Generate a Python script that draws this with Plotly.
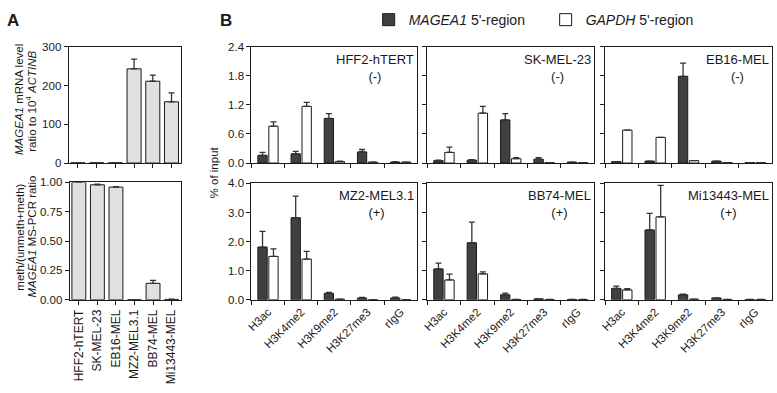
import plotly.graph_objects as go

W, H = 777, 393

# ---------------- Panel A data ----------------
cell_lines = ["HFF2-hTERT", "SK-MEL-23", "EB16-MEL", "MZ2-MEL3.1", "BB74-MEL", "Mi13443-MEL"]
mrna_level = [0.5, 0.5, 0.5, 243, 211, 158]
mrna_err = [0, 0, 0, 25, 16, 23]
msp_ratio = [1.00, 0.98, 0.96, 0.0, 0.14, 0.003]
msp_err = [0.004, 0.005, 0.005, 0.0, 0.025, 0.002]

# ---------------- Panel B data (% of input) ----------------
marks = ["H3ac", "H3K4me2", "H3K9me2", "H3K27me3", "rIgG"]

hff2_magea1 = [0.16, 0.19, 0.92, 0.23, 0.02]
hff2_magea1_err = [0.06, 0.05, 0.10, 0.05, 0.01]
hff2_gapdh = [0.76, 1.17, 0.03, 0.02, 0.02]
hff2_gapdh_err = [0.09, 0.08, 0.01, 0.0, 0.0]

sk_magea1 = [0.05, 0.06, 0.89, 0.08, 0.02]
sk_magea1_err = [0.01, 0.01, 0.13, 0.03, 0.0]
sk_gapdh = [0.22, 1.03, 0.09, 0.01, 0.01]
sk_gapdh_err = [0.11, 0.14, 0.02, 0.0, 0.0]

eb16_magea1 = [0.03, 0.04, 1.79, 0.04, 0.01]
eb16_magea1_err = [0.0, 0.0, 0.27, 0.0, 0.0]
eb16_gapdh = [0.68, 0.53, 0.05, 0.01, 0.01]
eb16_gapdh_err = [0.0, 0.0, 0.0, 0.0, 0.0]

mz2_magea1 = [1.81, 2.82, 0.22, 0.06, 0.06]
mz2_magea1_err = [0.54, 0.74, 0.03, 0.02, 0.03]
mz2_gapdh = [1.49, 1.40, 0.02, 0.0, 0.0]
mz2_gapdh_err = [0.26, 0.26, 0.0, 0.0, 0.0]

bb74_magea1 = [1.06, 1.96, 0.17, 0.03, 0.01]
bb74_magea1_err = [0.20, 0.71, 0.06, 0.0, 0.0]
bb74_gapdh = [0.68, 0.89, 0.01, 0.01, 0.01]
bb74_gapdh_err = [0.20, 0.07, 0.0, 0.0, 0.0]

mi_magea1 = [0.39, 2.40, 0.17, 0.06, 0.01]
mi_magea1_err = [0.08, 0.57, 0.02, 0.0, 0.0]
mi_gapdh = [0.34, 2.85, 0.02, 0.01, 0.01]
mi_gapdh_err = [0.04, 1.08, 0.0, 0.0, 0.0]

chip_panels = [
    ("HFF2-hTERT", "(-)", hff2_magea1, hff2_magea1_err, hff2_gapdh, hff2_gapdh_err),
    ("SK-MEL-23", "(-)", sk_magea1, sk_magea1_err, sk_gapdh, sk_gapdh_err),
    ("EB16-MEL", "(-)", eb16_magea1, eb16_magea1_err, eb16_gapdh, eb16_gapdh_err),
    ("MZ2-MEL3.1", "(+)", mz2_magea1, mz2_magea1_err, mz2_gapdh, mz2_gapdh_err),
    ("BB74-MEL", "(+)", bb74_magea1, bb74_magea1_err, bb74_gapdh, bb74_gapdh_err),
    ("Mi13443-MEL", "(+)", mi_magea1, mi_magea1_err, mi_gapdh, mi_gapdh_err),
]

INK = "#1a1a1a"
DARK = "#404040"
LIGHT = "#e0e0e0"
FONT = "Arial, Liberation Sans, sans-serif"


def xd(a, b):
    return [a / W, b / W]


def yd(top, bottom):
    return [1 - bottom / H, 1 - top / H]


base_axis = dict(showline=True, linecolor=INK, linewidth=1, mirror=True,
                 ticks="outside", ticklen=4, tickcolor=INK, tickwidth=1,
                 showgrid=False, zeroline=False, fixedrange=True,
                 tickfont=dict(size=11.5, color=INK, family=FONT))

fig = go.Figure()
layout = dict(width=W, height=H, margin=dict(l=0, r=0, t=0, b=0),
              paper_bgcolor="white", plot_bgcolor="white",
              barmode="group", bargap=0.34, bargroupgap=0.15,
              font=dict(family=FONT, size=11, color=INK))


def err(arr):
    return dict(type="data", array=arr, arrayminus=[0] * len(arr), symmetric=False,
                color="#333333", thickness=1.3, width=3)


# Panel A top
fig.add_trace(go.Bar(x=cell_lines, y=mrna_level, error_y=err(mrna_err), width=0.75,
                     marker=dict(color=LIGHT, line=dict(color=INK, width=1)),
                     showlegend=False, xaxis="x", yaxis="y"))
layout["xaxis"] = dict(base_axis, domain=xd(64, 177), anchor="y", type="category",
                       range=[-0.5, 5.5], showticklabels=False)
layout["yaxis"] = dict(base_axis, domain=yd(42, 162), anchor="x", range=[0, 300],
                       tickvals=[0, 100, 200, 300])

# Panel A bottom
fig.add_trace(go.Bar(x=cell_lines, y=msp_ratio, error_y=err(msp_err), width=0.75,
                     marker=dict(color=LIGHT, line=dict(color=INK, width=1)),
                     showlegend=False, xaxis="x2", yaxis="y2"))
layout["xaxis2"] = dict(base_axis, domain=xd(65, 177), anchor="y2", type="category",
                        range=[-0.5, 5.5], tickangle=-90,
                        tickfont=dict(size=12, color=INK, family=FONT))
layout["yaxis2"] = dict(base_axis, domain=yd(182, 303), anchor="x2", range=[0, 1.0],
                        tickvals=[0, 0.25, 0.5, 0.75, 1.0], tickformat=".2f")

cols = [(248, 415), (425, 593), (604, 772)]
rows = [(42, 162), (183, 303)]

annotations = []
for i, (name, sign, mg, mge, gp, gpe) in enumerate(chip_panels):
    r, c = divmod(i, 3)
    n = i + 3
    xa, ya = f"x{n}", f"y{n}"
    first = (i == 0)
    fig.add_trace(go.Bar(x=marks, y=mg, error_y=err(mge), name="<i>MAGEA1</i> 5'-region",
                         marker=dict(color=DARK, line=dict(color=INK, width=1)),
                         showlegend=first, legendgroup="m", xaxis=xa, yaxis=ya))
    fig.add_trace(go.Bar(x=marks, y=gp, error_y=err(gpe), name="<i>GAPDH</i> 5'-region",
                         marker=dict(color="white", line=dict(color=INK, width=1)),
                         showlegend=first, legendgroup="g", xaxis=xa, yaxis=ya))
    layout[f"xaxis{n}"] = dict(base_axis, domain=xd(*cols[c]), anchor=ya, type="category",
                               range=[-0.5, 4.5], tickson="boundaries",
                               showticklabels=(r == 1), tickangle=-45)
    if r == 0:
        yr, tv, tf = [0, 2.4], [0, 0.6, 1.2, 1.8, 2.4], ".1f"
    else:
        yr, tv, tf = [0, 4.0], [0, 1, 2, 3, 4], ".1f"
    layout[f"yaxis{n}"] = dict(base_axis, domain=yd(*rows[r]), anchor=xa, range=yr,
                               tickvals=tv, tickformat=tf, showticklabels=(c == 0))
    annotations.append(dict(text=f"{name}<br>{sign}", xref=f"{xa} domain", yref=f"{ya} domain",
                            x=1, y=1, xanchor="right", yanchor="top", xshift=-1, yshift=-3,
                            showarrow=False, align="center",
                            font=dict(size=13, color=INK, family=FONT)))

# panel letters
annotations.append(dict(text="<b>A</b>", xref="paper", yref="paper", x=0, y=1 - 3 / H,
                        xanchor="left", yanchor="top", showarrow=False,
                        font=dict(size=17, color=INK, family=FONT)))
annotations.append(dict(text="<b>B</b>", xref="paper", yref="paper", x=214 / W, y=1 - 3 / H,
                        xanchor="left", yanchor="top", showarrow=False,
                        font=dict(size=17, color=INK, family=FONT)))


def vtitle(text, x, y):
    annotations.append(dict(text=text, xref="paper", yref="paper", x=x / W, y=1 - y / H,
                            textangle=-90, xanchor="center", yanchor="middle", showarrow=False,
                            font=dict(size=11.5, color=INK, family=FONT)))


# y titles (one annotation per line for tight line spacing)
vtitle("<i>MAGEA1</i> mRNA level", 14, 96)
vtitle("ratio to 10<sup>4</sup> <i>ACTINB</i>", 26, 98)
vtitle("meth/(unmeth+meth)", 15, 238)
vtitle("<i>MAGEA1</i> MS-PCR ratio", 27, 238)
vtitle("% of input", 210, 172)

layout["annotations"] = annotations
layout["legend"] = dict(orientation="h", x=366 / W, xanchor="left", y=1 + 2 / H, yanchor="top",
                        entrywidth=132, entrywidthmode="pixels",
                        font=dict(size=14, color=INK, family=FONT), bgcolor="rgba(0,0,0,0)")
fig.update_layout(**layout)
fig.write_html("out.html", config={"displayModeBar": False},
               post_script="document.body.style.margin='0';document.body.style.overflow='hidden';")
